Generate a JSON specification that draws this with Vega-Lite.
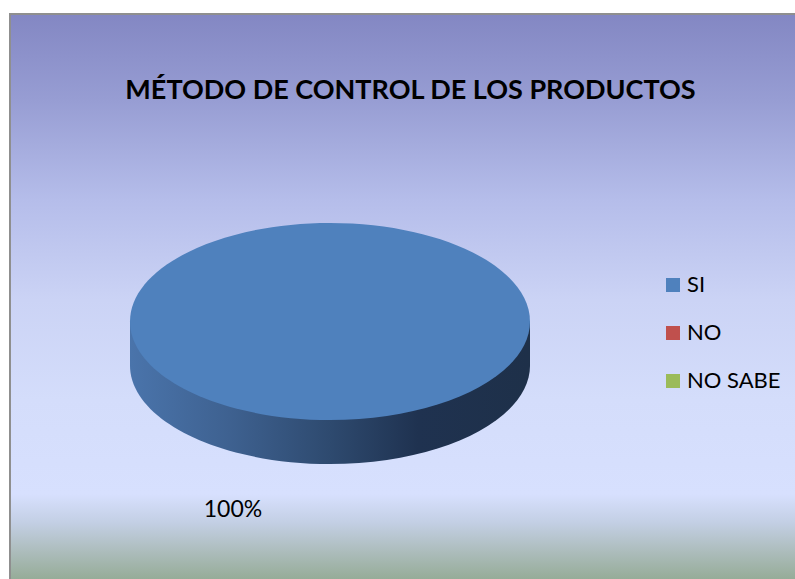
{
  "$schema": "https://vega.github.io/schema/vega-lite/v6.json",
  "width": 785,
  "height": 565,
  "autosize": "none",
  "padding": {"left": 10, "top": 14, "right": 0, "bottom": 0},
  "background": "white",
  "title": {
    "text": "MÉTODO DE CONTROL DE LOS PRODUCTOS",
    "font": "Lato",
    "fontSize": 27,
    "fontWeight": "bold",
    "color": "#000000",
    "anchor": "middle",
    "frame": "group",
    "offset": -92,
    "dx": 8
  },
  "config": {"view": {"stroke": null}},
  "data": {
    "values": [
      {"respuesta": "SI", "porcentaje": 1},
      {"respuesta": "NO", "porcentaje": 0},
      {"respuesta": "NO SABE", "porcentaje": 0}
    ]
  },
  "layer": [
    {
      "mark": {
        "type": "rect",
        "fill": {
          "gradient": "linear", "x1": 0, "y1": 0, "x2": 0, "y2": 1,
          "stops": [
            {"offset": 0, "color": "#8387c3"},
            {"offset": 0.152, "color": "#979dd3"},
            {"offset": 0.329, "color": "#b5bdea"},
            {"offset": 0.506, "color": "#cbd3f5"},
            {"offset": 0.683, "color": "#d4ddfb"},
            {"offset": 0.85, "color": "#d7e0fe"},
            {"offset": 0.9, "color": "#c3cfe4"},
            {"offset": 0.95, "color": "#adbdbd"},
            {"offset": 1, "color": "#96ac98"}
          ]
        },
        "stroke": "#8f8f8f",
        "strokeWidth": 2,
        "strokeDash": [786, 1349, 566, 0]
      },
      "encoding": {}
    },
    {
      "mark": {
        "type": "point",
        "filled": true,
        "opacity": 1,
        "shape": "M -1 0 L -1 0.22 C -1 0.492 -0.5523 0.7125 0 0.7125 C 0.5523 0.7125 1 0.492 1 0.22 L 1 0 Z",
        "fill": {
          "gradient": "linear", "x1": 0, "y1": 0, "x2": 1, "y2": 0,
          "stops": [
            {"offset": 0, "color": "#4a74ab"},
            {"offset": 0.25, "color": "#3e6190"},
            {"offset": 0.5, "color": "#2e4a6f"},
            {"offset": 0.72, "color": "#1f3250"},
            {"offset": 1, "color": "#1e3049"}
          ]
        },
        "xOffset": -72.5,
        "yOffset": 25
      },
      "encoding": {
        "size": {"field": "porcentaje", "type": "quantitative", "scale": {"domain": [0, 1], "range": [0, 160000]}, "legend": null}
      }
    },
    {
      "mark": {
        "type": "point",
        "filled": true,
        "opacity": 1,
        "shape": "M -1 0 C -1 -0.272 -0.5523 -0.4925 0 -0.4925 C 0.5523 -0.4925 1 -0.272 1 0 C 1 0.272 0.5523 0.4925 0 0.4925 C -0.5523 0.4925 -1 0.272 -1 0 Z",
        "xOffset": -72.5,
        "yOffset": 25
      },
      "encoding": {
        "size": {"field": "porcentaje", "type": "quantitative", "scale": {"domain": [0, 1], "range": [0, 160000]}, "legend": null},
        "color": {
          "field": "respuesta", "type": "nominal",
          "scale": {"domain": ["SI", "NO", "NO SABE"], "range": ["#4f81bd", "#c0504d", "#9bbb59"]},
          "legend": {
            "title": null,
            "orient": "none",
            "legendX": 652,
            "legendY": 260,
            "symbolType": "square",
            "symbolSize": 196,
            "symbolStrokeWidth": 0,
            "labelFont": "Lato",
            "labelFontSize": 22,
            "labelColor": "#000000",
            "labelOffset": 3,
            "rowPadding": 26
          }
        }
      }
    },
    {
      "transform": [{"filter": "datum.porcentaje > 0"}],
      "mark": {
        "type": "text",
        "font": "Lato",
        "fontSize": 23,
        "color": "#000000",
        "align": "center",
        "baseline": "middle",
        "xOffset": -169.5,
        "yOffset": 213.5
      },
      "encoding": {
        "text": {"field": "porcentaje", "type": "quantitative", "format": ".0%"}
      }
    }
  ]
}
